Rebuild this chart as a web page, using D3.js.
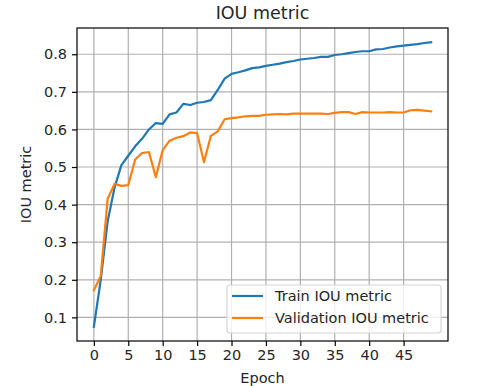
<!DOCTYPE html>
<html>
<head>
<meta charset="utf-8">
<script src="https://cdn.jsdelivr.net/npm/d3@7"></script>
<style>
  body { margin: 0; background: #fff; }
  text { font-family: "DejaVu Sans", sans-serif; fill: #262626; }
</style>
</head>
<body>
<div id="chart"></div>
<script>
// du lieu doc tu hinh
var epochs = d3.range(0, 50);
var trainIou = [0.075, 0.2, 0.355, 0.445, 0.505, 0.53, 0.555, 0.575, 0.6, 0.617,
  0.615, 0.64, 0.645, 0.668, 0.665, 0.671, 0.673, 0.678, 0.705, 0.735,
  0.748, 0.752, 0.757, 0.763, 0.765, 0.769, 0.772, 0.775, 0.779, 0.782,
  0.786, 0.788, 0.79, 0.793, 0.793, 0.798, 0.8, 0.803, 0.806, 0.808,
  0.808, 0.813, 0.814, 0.818, 0.821, 0.823, 0.825, 0.827, 0.83, 0.832];
var valIou = [0.172, 0.21, 0.415, 0.455, 0.45, 0.452, 0.52, 0.537, 0.54, 0.473,
  0.545, 0.57, 0.578, 0.582, 0.592, 0.59, 0.513, 0.583, 0.595, 0.627,
  0.63, 0.632, 0.635, 0.636, 0.636, 0.639, 0.64, 0.641, 0.64, 0.642,
  0.642, 0.642, 0.642, 0.642, 0.641, 0.644, 0.646, 0.646, 0.641, 0.646,
  0.645, 0.645, 0.645, 0.646, 0.645, 0.645, 0.651, 0.652, 0.65, 0.648];
var xTicks = [0, 5, 10, 15, 20, 25, 30, 35, 40, 45];
var yTicks = [0.1, 0.2, 0.3, 0.4, 0.5, 0.6, 0.7, 0.8];
var seriesNames = ["Train IOU metric", "Validation IOU metric"];
var colors = ["#1f77b4", "#ff7f0e"];

var W = 485, H = 386;
var m = {left: 77, right: 448, top: 28, bottom: 341};
var fs = "14.5px";

var svg = d3.select("#chart").append("svg")
  .attr("width", W).attr("height", H);

// matplotlib style margins 5%
var yAll = trainIou.concat(valIou);
var yMin = d3.min(yAll), yMax = d3.max(yAll), yPad = (yMax - yMin) * 0.05;
var x = d3.scaleLinear().domain([-2.45, 51.45]).range([m.left, m.right]);
var y = d3.scaleLinear().domain([yMin - yPad, yMax + yPad]).range([m.bottom, m.top]);

// grid
var grid = svg.append("g");
grid.selectAll(".gx").data(xTicks).enter().append("line")
  .attr("x1", function(d) { return x(d); }).attr("x2", function(d) { return x(d); })
  .attr("y1", m.top).attr("y2", m.bottom)
  .attr("stroke", "#b0b0b0").attr("stroke-width", 1.2);
grid.selectAll(".gy").data(yTicks).enter().append("line")
  .attr("y1", function(d) { return y(d); }).attr("y2", function(d) { return y(d); })
  .attr("x1", m.left).attr("x2", m.right)
  .attr("stroke", "#b0b0b0").attr("stroke-width", 1.2);

// axes
var xAxis = svg.append("g")
  .attr("transform", "translate(0," + m.bottom + ")")
  .call(d3.axisBottom(x).tickValues(xTicks).tickSize(5).tickPadding(4).tickFormat(d3.format("d")));
var yAxis = svg.append("g")
  .attr("transform", "translate(" + m.left + ",0)")
  .call(d3.axisLeft(y).tickValues(yTicks).tickSize(5).tickPadding(5).tickFormat(d3.format(".1f")));
[xAxis, yAxis].forEach(function(a) {
  a.select(".domain").remove();
  a.selectAll("line").attr("stroke", "#000").attr("stroke-width", 1.2);
  a.selectAll("text").style("font-size", fs).style("font-family", "DejaVu Sans").attr("fill", "#262626");
});

// lines
var line = d3.line()
  .x(function(d, i) { return x(epochs[i]); })
  .y(function(d) { return y(d); });
[trainIou, valIou].forEach(function(s, k) {
  svg.append("path").datum(s)
    .attr("d", line)
    .attr("fill", "none")
    .attr("stroke", colors[k])
    .attr("stroke-width", 2.2)
    .attr("stroke-linejoin", "round")
    .attr("stroke-linecap", "square");
});

// frame
svg.append("rect")
  .attr("x", m.left).attr("y", m.top)
  .attr("width", m.right - m.left).attr("height", m.bottom - m.top)
  .attr("fill", "none").attr("stroke", "#000").attr("stroke-width", 1.2);

// legend
var lg = svg.append("g");
lg.append("rect")
  .attr("x", 227).attr("y", 285).attr("width", 214).attr("height", 48)
  .attr("rx", 3).attr("fill", "rgba(255,255,255,0.8)").attr("stroke", "#d6d6d6").attr("stroke-width", 1.2);
seriesNames.forEach(function(n, k) {
  var yy = 296 + k * 22;
  lg.append("line").attr("x1", 232).attr("x2", 263).attr("y1", yy).attr("y2", yy)
    .attr("stroke", colors[k]).attr("stroke-width", 2.2);
  lg.append("text").attr("x", 275).attr("y", yy).attr("dy", "0.35em")
    .style("font-size", fs).text(n);
});

// titles
svg.append("text").attr("x", (m.left + m.right) / 2).attr("y", 13).attr("dy", "0.35em")
  .attr("text-anchor", "middle").style("font-size", "17.5px").text("IOU metric");
svg.append("text").attr("x", (m.left + m.right) / 2).attr("y", 378).attr("dy", "0.35em")
  .attr("text-anchor", "middle").style("font-size", fs).text("Epoch");
svg.append("text")
  .attr("transform", "translate(26," + (m.top + m.bottom) / 2 + ") rotate(-90)")
  .attr("dy", "0.35em").attr("text-anchor", "middle")
  .style("font-size", fs).text("IOU metric");
</script>
</body>
</html>
